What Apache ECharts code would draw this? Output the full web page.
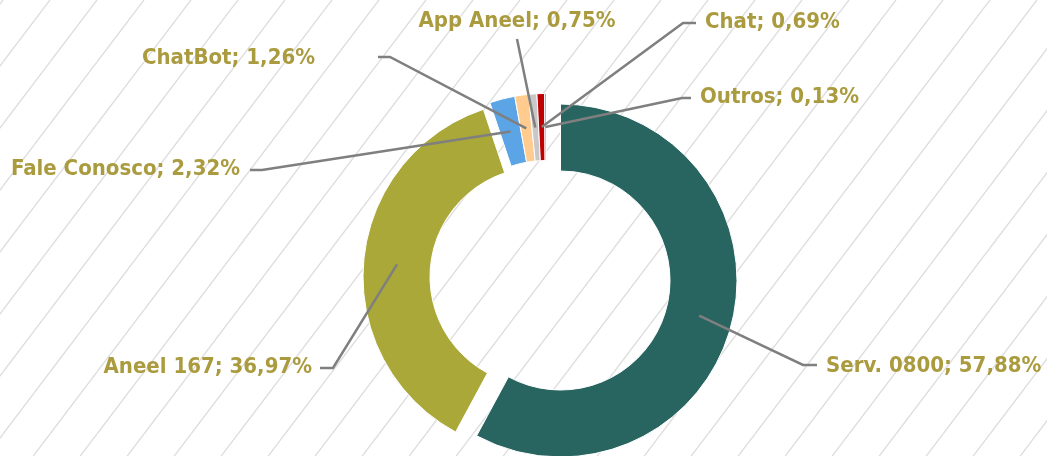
<!DOCTYPE html>
<html>
<head>
<meta charset="utf-8">
<script src="https://cdn.jsdelivr.net/npm/echarts@6/dist/echarts.min.js"></script>
<style>
  html, body { margin: 0; padding: 0; background: #fff; }
  #chart { width: 1047px; height: 456px; }
</style>
</head>
<body>
<div id="chart"></div>
<script>
// data
const categories = ["Serv. 0800", "Aneel 167", "Fale Conosco", "ChatBot", "App Aneel", "Chat", "Outros"];
const shares = [57.88, 36.97, 2.32, 1.26, 0.75, 0.69, 0.13];
// which exploded piece each slice belongs to (0 = Serv, 1 = Aneel, 2 = small ones)
const groups = [0, 1, 2, 2, 2, 2, 2];

const colors = ["#286560", "#A9A838", "#5BA4E5", "#FFCB8F", "#C8C8C8", "#C00000", "#7030A0"];
const textColor = "#AA9B3E";

// exploded centres of the three pieces
const centers = [[560.5, 280.5], [539.5, 276.7], [546, 270]];
const innerR = 109.5;
const outerR = 176.5;
const midR = (innerR + outerR) / 2;

// label placement, Excel-style manual positions
const labelSpots = [
  { x: 826, y: 366, align: "left",   elbow: [803, 365], end: [817, 365] },
  { x: 312, y: 367, align: "right",  elbow: [333, 368], end: [320, 368] },
  { x: 240, y: 169, align: "right",  elbow: [262, 170], end: [250, 170] },
  { x: 315, y: 58,  align: "right",  elbow: [390, 57],  end: [378, 57] },
  { x: 517, y: 21,  align: "center", elbow: [517, 39],  end: [517, 39] },
  { x: 705, y: 22,  align: "left",   elbow: [683, 23],  end: [696, 23] },
  { x: 700, y: 97,  align: "left",   elbow: [682, 98],  end: [691, 98] }
];

// diagonal hatch tile for background
function hatchTile() {
  const w = 47, h = 62, c = 3;
  const cv = document.createElement("canvas");
  cv.width = w; cv.height = h;
  const ctx = cv.getContext("2d");
  ctx.fillStyle = "#fff";
  ctx.fillRect(0, 0, w, h);
  ctx.strokeStyle = "#DEDEDE";
  ctx.lineWidth = 1.4;
  ctx.beginPath();
  ctx.moveTo(c, 0); ctx.lineTo(c - w, h);
  ctx.moveTo(c + w, 0); ctx.lineTo(c, h);
  ctx.stroke();
  return cv;
}

function fmt(v) {
  return v.toFixed(2).replace(".", ",") + "%";
}

const chart = echarts.init(document.getElementById("chart"), null, { renderer: "canvas" });

function pieBase(c) {
  return {
    type: "pie",
    center: c,
    radius: [innerR, outerR],
    startAngle: 90,
    clockwise: true,
    avoidLabelOverlap: false,
    silent: true,
    animation: false,
    emphasis: { disabled: true }
  };
}

// visible slices, one series per exploded piece
const slices = centers.map(function (c, g) {
  return Object.assign(pieBase(c), {
    z: 2,
    label: { show: false },
    labelLine: { show: false },
    data: categories.map(function (name, i) {
      const mine = groups[i] === g;
      return {
        name: name,
        value: shares[i],
        itemStyle: mine
          ? { color: colors[i], borderColor: "#fff", borderWidth: 1 }
          : { color: "rgba(0,0,0,0)", borderWidth: 0 }
      };
    })
  });
});

// transparent copies on top that carry the labels and leader lines
const leaderStyle = { color: "#7F7F7F", width: 2.5 };
const labelCarriers = centers.map(function (c, g) {
  return Object.assign(pieBase(c), {
    z: 3,
    label: {
      position: "outside",
      color: textColor,
      fontFamily: "'DejaVu Sans Condensed', 'DejaVu Sans', sans-serif",
      fontWeight: "bold",
      fontSize: 22,
      formatter: function (p) { return p.name + "; " + fmt(p.value); }
    },
    labelLine: {
      show: true,
      smooth: false,
      lineStyle: leaderStyle
    },
    labelLayout: function (params) {
      const spot = labelSpots[params.dataIndex];
      const pts = params.labelLinePoints;
      if (!spot || !pts || !pts[0]) return {};
      // leader starts mid-ring on the slice bisector, like Excel
      const ctr = centers[g];
      const k = midR / outerR;
      const start = [ctr[0] + (pts[0][0] - ctr[0]) * k, ctr[1] + (pts[0][1] - ctr[1]) * k];
      return {
        x: spot.x,
        y: spot.y,
        align: spot.align,
        verticalAlign: "middle",
        labelLinePoints: [start, spot.elbow, spot.end]
      };
    },
    data: categories.map(function (name, i) {
      const mine = groups[i] === g;
      return {
        name: name,
        value: shares[i],
        itemStyle: { color: "rgba(0,0,0,0)", borderWidth: 0 },
        label: { show: mine },
        labelLine: { show: mine, lineStyle: leaderStyle }
      };
    })
  });
});

chart.setOption({
  animation: false,
  graphic: [{
    type: "rect",
    silent: true,
    z: -10,
    shape: { x: 0, y: 0, width: 1047, height: 456 },
    style: { fill: { image: hatchTile(), repeat: "repeat" } }
  }],
  series: slices.concat(labelCarriers)
});
</script>
</body>
</html>
